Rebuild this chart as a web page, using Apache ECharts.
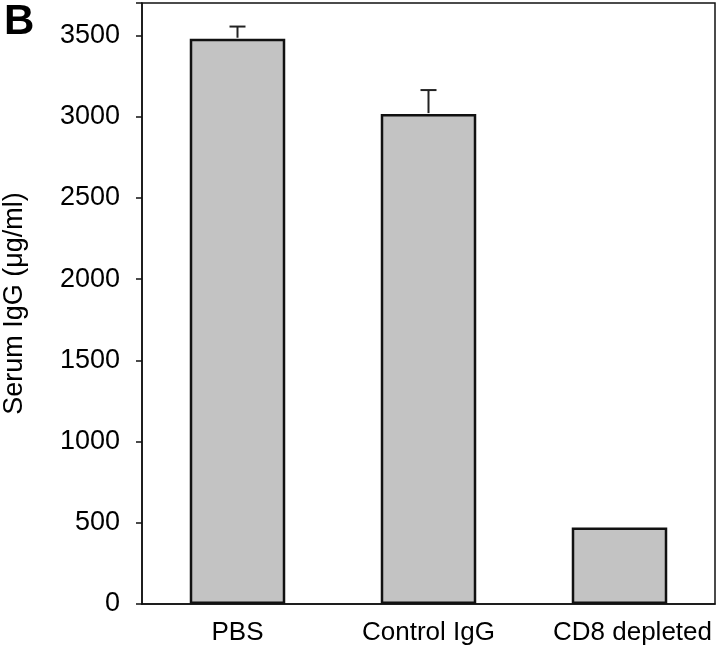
<!DOCTYPE html>
<html>
<head>
<meta charset="utf-8">
<script src="https://cdn.jsdelivr.net/npm/echarts@6/dist/echarts.min.js"></script>
<style>
  html, body { margin: 0; padding: 0; background: #fff; }
  #chart { width: 720px; height: 654px; }
</style>
</head>
<body>
<div id="chart"></div>
<script>
// values
var groups = ['PBS', 'Control IgG', 'CD8 depleted'];
var meanIgG = [3480, 3016, 471];
var errTop = [3555, 3164, 471];
var yTicks = [0, 500, 1000, 1500, 2000, 2500, 3000, 3500];

var font = 'Liberation Sans, Arial, sans-serif';

var errData = groups.map(function(g, i) {
  return [i, meanIgG[i], errTop[i]];
});

// last label sits a little right of its bar in the original
var catData = groups.map(function(g, i) {
  if (i === groups.length - 1) return { value: g, textStyle: { padding: [0, 0, 0, 26] } };
  return g;
});

var option = {
  backgroundColor: '#fff',
  animation: false,
  title: {
    text: 'B',
    left: -1,
    top: -4,
    textStyle: { fontFamily: font, fontSize: 42, fontWeight: 'bold', color: '#000' }
  },
  grid: {
    left: 142, right: 5, top: 3, bottom: 50,
    outerBoundsMode: 'none',
    containLabel: false,
    show: true, borderColor: '#111', borderWidth: 1.5, backgroundColor: 'transparent'
  },
  xAxis: {
    type: 'category',
    data: catData,
    axisLine: { lineStyle: { color: '#111', width: 1.5 } },
    axisTick: { show: false },
    axisLabel: { interval: 0, color: '#000', fontFamily: font, fontSize: 26, margin: 16 }
  },
  yAxis: {
    type: 'value',
    min: 0, max: 3700, interval: 500,
    name: 'Serum IgG (\u03bcg/ml)',
    nameLocation: 'middle',
    nameGap: 114,
    nameTextStyle: { color: '#000', fontFamily: font, fontSize: 27 },
    axisLine: { show: true, lineStyle: { color: '#111', width: 1.5 } },
    axisTick: { show: true, length: 6, lineStyle: { color: '#111', width: 1.5 } },
    splitLine: { show: false },
    axisLabel: {
      color: '#000', fontFamily: font, fontSize: 27, margin: 22,
      formatter: function(v) { return yTicks.indexOf(v) >= 0 ? String(v) : ''; }
    }
  },
  series: [{
    type: 'bar',
    data: meanIgG,
    barWidth: '50%',
    itemStyle: { color: '#c3c3c3', borderColor: '#111', borderWidth: 2.5 },
    z: 2
  }, {
    type: 'custom',
    z: 3,
    data: errData,
    renderItem: function(params, api) {
      var x = api.value(0);
      var lo = api.coord([x, api.value(1)]);
      var hi = api.coord([x, api.value(2)]);
      if (api.value(2) <= api.value(1)) return null;
      var half = 8;
      var st = { stroke: '#222', lineWidth: 2 };
      return {
        type: 'group',
        children: [
          { type: 'line', shape: { x1: lo[0], y1: lo[1] - 1, x2: hi[0], y2: hi[1] }, style: st },
          { type: 'line', shape: { x1: hi[0] - half, y1: hi[1], x2: hi[0] + half, y2: hi[1] }, style: st }
        ]
      };
    }
  }]
};

var myChart = echarts.init(document.getElementById('chart'));
myChart.setOption(option);
</script>
</body>
</html>
